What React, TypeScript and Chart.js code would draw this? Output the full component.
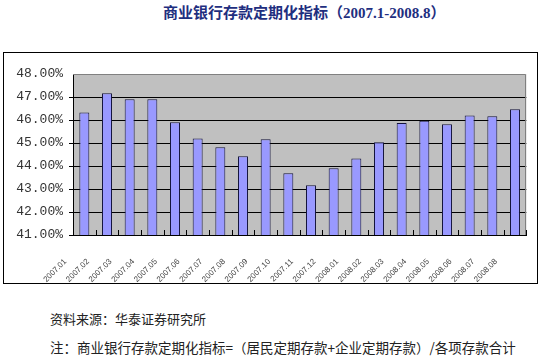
import React, { useEffect, useRef } from "react";
import { Chart, registerables } from "chart.js";

Chart.register(...registerables);

const TITLE = "商业银行存款定期化指标（2007.1-2008.8）";
const SOURCE = "资料来源：华泰证券研究所";
const NOTE = "注：商业银行存款定期化指标=（居民定期存款+企业定期存款）/各项存款合计";

const categories = [
  "2007.01", "2007.02", "2007.03", "2007.04", "2007.05", "2007.06", "2007.07",
  "2007.08", "2007.09", "2007.10", "2007.11", "2007.12", "2008.01", "2008.02",
  "2008.03", "2008.04", "2008.05", "2008.06", "2008.07", "2008.08",
];
const values = [
  46.33, 47.16, 46.9, 46.9, 45.9, 45.2, 44.81, 44.42, 45.16, 43.68,
  43.16, 43.9, 44.33, 45.03, 45.87, 45.97, 45.81, 46.2, 46.16, 46.47,
];
const yMin = 41;
const yMax = 48;
const yStep = 1;

export default function App() {
  const ref = useRef<HTMLCanvasElement>(null);

  useEffect(() => {
    if (!ref.current) return;
    const plotPlugin = {
      id: "plotDecor",
      beforeDraw(chart: any) {
        const { ctx, chartArea: a } = chart;
        ctx.save();
        ctx.fillStyle = "#C0C0C0";
        ctx.fillRect(a.left, a.top, a.right - a.left, a.bottom - a.top);
        ctx.restore();
      },
      afterDraw(chart: any) {
        const { ctx, chartArea: a, scales } = chart;
        ctx.save();
        ctx.lineWidth = 1;
        ctx.strokeStyle = "#808080";
        const t = Math.round(a.top) + 0.5;
        const r = Math.round(a.right) - 0.5;
        ctx.beginPath();
        ctx.moveTo(a.left, t);
        ctx.lineTo(r, t);
        ctx.lineTo(r, a.bottom);
        ctx.stroke();
        ctx.strokeStyle = "#000";
        ctx.beginPath();
        const xs = scales.x;
        for (let i = 0; i <= categories.length; i++) {
          const px = Math.round(xs.getPixelForValue(i - 0.5)) + 0.5;
          ctx.moveTo(px, a.bottom);
          ctx.lineTo(px, a.bottom - 5);
        }
        ctx.stroke();
        ctx.restore();
      },
    };

    const chart = new Chart(ref.current, {
      type: "bar",
      data: {
        labels: categories,
        datasets: [
          {
            data: values,
            backgroundColor: "#9999FF",
            borderColor: "#14143C",
            borderWidth: 1,
            barPercentage: 0.44,
            categoryPercentage: 1,
          },
        ],
      },
      options: {
        animation: false,
        responsive: false,
        maintainAspectRatio: false,
        layout: { padding: { left: 0, right: 9, top: 21, bottom: 0 } },
        plugins: {
          legend: { display: false },
          tooltip: { enabled: false },
          title: { display: false },
        },
        scales: {
          x: {
            grid: { display: false },
            border: { display: true, color: "#000", width: 1 },
            ticks: {
              autoSkip: false,
              maxRotation: 45,
              minRotation: 45,
              labelOffset: -19,
              padding: 14,
              color: "#444",
              font: { family: "Liberation Sans", size: 8 },
            },
            afterFit: (s: any) => {
              s.height = 48;
            },
          },
          y: {
            min: yMin,
            max: yMax,
            ticks: {
              stepSize: yStep,
              padding: 6,
              color: "#333",
              font: { family: "Liberation Mono", size: 13 },
              callback: (v: any) => Number(v).toFixed(2) + "%",
            },
            grid: {
              color: (c: any) => (c.tick && c.tick.value === yMax ? "rgba(0,0,0,0)" : "#000"),
              lineWidth: 1,
              tickLength: 4,
            },
            border: { display: true, color: "#000", width: 1 },
            afterFit: (s: any) => {
              s.width = 69;
            },
          },
        },
      },
      plugins: [plotPlugin],
    });
    return () => chart.destroy();
  }, []);

  return (
    <div
      style={{
        position: "fixed",
        left: 0,
        top: 0,
        width: 543,
        height: 357,
        background: "#fff",
        overflow: "hidden",
      }}
    >
      <div
        style={{
          position: "absolute",
          left: 163,
          top: 5,
          whiteSpace: "nowrap",
          fontFamily: '"Liberation Serif", "Noto Sans CJK SC", serif',
          fontWeight: "bold",
          fontSize: 15,
          lineHeight: "16px",
          color: "#1F2F80",
        }}
      >
        {TITLE}
      </div>
      <div
        style={{
          position: "absolute",
          left: 3,
          top: 52,
          width: 535,
          height: 232,
          boxSizing: "border-box",
          border: "1px solid #000",
        }}
      >
        <canvas
          ref={ref}
          width={532}
          height={230}
          style={{ position: "absolute", left: 0, top: 0, width: 532, height: 230 }}
        />
      </div>
      <div
        style={{
          position: "absolute",
          left: 50,
          top: 311,
          whiteSpace: "nowrap",
          fontFamily: '"Noto Sans CJK SC", sans-serif',
          fontSize: 13,
          lineHeight: "16px",
          color: "#222",
        }}
      >
        {SOURCE}
      </div>
      <div
        style={{
          position: "absolute",
          left: 50,
          top: 339,
          whiteSpace: "nowrap",
          fontFamily: '"Noto Sans CJK SC", sans-serif',
          fontSize: 13.5,
          lineHeight: "16px",
          color: "#222",
        }}
      >
        {NOTE}
      </div>
    </div>
  );
}
